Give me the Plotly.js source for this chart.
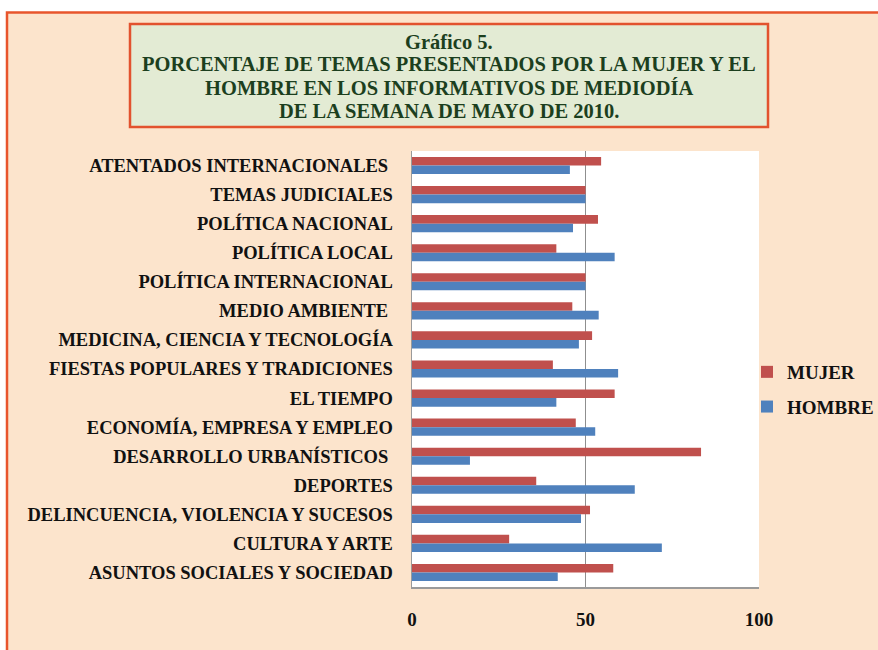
<!DOCTYPE html>
<html>
<head>
<meta charset="utf-8">
<script src="https://cdn.plot.ly/plotly-3.0.1.min.js"></script>
<style>html,body{margin:0;padding:0;background:#fff;}#chart{width:878px;height:650px;}</style>
</head>
<body>
<div id="chart"></div>
<script>
const categories = [
  "ATENTADOS INTERNACIONALES\u00a0",
  "TEMAS JUDICIALES",
  "POLÍTICA NACIONAL",
  "POLÍTICA LOCAL",
  "POLÍTICA INTERNACIONAL",
  "MEDIO AMBIENTE\u00a0",
  "MEDICINA, CIENCIA Y TECNOLOGÍA",
  "FIESTAS POPULARES Y TRADICIONES",
  "EL TIEMPO",
  "ECONOMÍA, EMPRESA Y EMPLEO",
  "DESARROLLO URBANÍSTICOS\u00a0",
  "DEPORTES",
  "DELINCUENCIA, VIOLENCIA Y SUCESOS",
  "CULTURA Y ARTE",
  "ASUNTOS SOCIALES Y SOCIEDAD"
];
const mujer  = [54.5, 50, 53.6, 41.6, 50, 46.2, 51.9, 40.6, 58.4, 47.2, 83.3, 35.8, 51.3, 28, 58];
const hombre = [45.5, 50, 46.4, 58.4, 50, 53.8, 48.1, 59.4, 41.6, 52.8, 16.7, 64.2, 48.7, 72, 42];
const xTicks = [0, 50, 100];
const titleLines = [
  "Gráfico 5.",
  "PORCENTAJE DE TEMAS PRESENTADOS POR LA MUJER Y EL",
  "HOMBRE EN LOS INFORMATIVOS DE MEDIODÍA",
  "DE LA SEMANA DE MAYO DE 2010."
];

const M = {l: 412, r: 119, t: 151, b: 63, autoexpand: false};
const W = 878, H = 650;
const pw = W - M.l - M.r, ph = H - M.t - M.b;
const px = v => (v - M.l) / pw;
const py = v => (H - M.b - v) / ph;

const serif = "Liberation Serif, Times New Roman, serif";

const traces = [
  {type: 'bar', orientation: 'h', name: 'MUJER', y: categories, x: mujer,
   marker: {color: '#C0504D'}, legendgroup: 'a', hoverinfo: 'x+y'},
  {type: 'bar', orientation: 'h', name: 'HOMBRE', y: categories, x: hombre,
   marker: {color: '#4F81BD'}, legendgroup: 'b', hoverinfo: 'x+y'}
];

const titleY = [42, 64, 88, 111];
const annotations = titleLines.map((t, i) => ({
  text: t, xref: 'paper', yref: 'paper', x: px(449), y: py(titleY[i]),
  xanchor: 'center', yanchor: 'middle', showarrow: false,
  font: {family: serif, size: 20.5, weight: 700, color: '#1C3F1E'}
}));

const layout = {
  width: W, height: H,
  margin: M,
  paper_bgcolor: '#ffffff',
  plot_bgcolor: 'rgba(0,0,0,0)',
  barmode: 'group',
  bargap: 0.41,
  bargroupgap: 0,
  showlegend: true,
  legend: {
    x: px(747), y: py(353), xanchor: 'left', yanchor: 'top',
    bgcolor: 'rgba(0,0,0,0)', traceorder: 'grouped', tracegroupgap: 7,
    font: {family: serif, size: 19, weight: 700, color: '#111'}
  },
  xaxis: {
    range: [0, 100], tickvals: xTicks, ticktext: xTicks.map(String),
    showgrid: true, gridcolor: '#8f8f8f', gridwidth: 1.5,
    showline: true, linecolor: '#9a9a9a', linewidth: 1.5,
    zeroline: false, ticks: '', ticklabelstandoff: 15,
    tickfont: {family: serif, size: 19, weight: 700, color: '#111'},
    fixedrange: true
  },
  yaxis: {
    type: 'category', autorange: 'reversed',
    showgrid: false, showline: true, linecolor: '#9a9a9a', linewidth: 1.5,
    zeroline: false, ticks: '', ticklabelstandoff: 14,
    tickfont: {family: serif, size: 18.5, weight: 700, color: '#111'},
    fixedrange: true
  },
  shapes: [
    {type: 'rect', xref: 'paper', yref: 'paper', layer: 'below',
     x0: px(7), x1: px(920), y0: py(12.5), y1: py(700),
     fillcolor: '#FCE4CC', line: {color: '#E8552C', width: 2.5}},
    {type: 'rect', xref: 'paper', yref: 'paper', layer: 'below',
     x0: 0, x1: 1, y0: 0, y1: 1, fillcolor: '#ffffff', line: {width: 0}},
    {type: 'rect', xref: 'paper', yref: 'paper', layer: 'below',
     x0: px(130), x1: px(768), y0: py(24), y1: py(127),
     fillcolor: '#E3EBD4', line: {color: '#E2522E', width: 2.5}}
  ],
  annotations: annotations
};

Plotly.newPlot('chart', traces, layout, {displayModeBar: false, staticPlot: true});
</script>
</body>
</html>
